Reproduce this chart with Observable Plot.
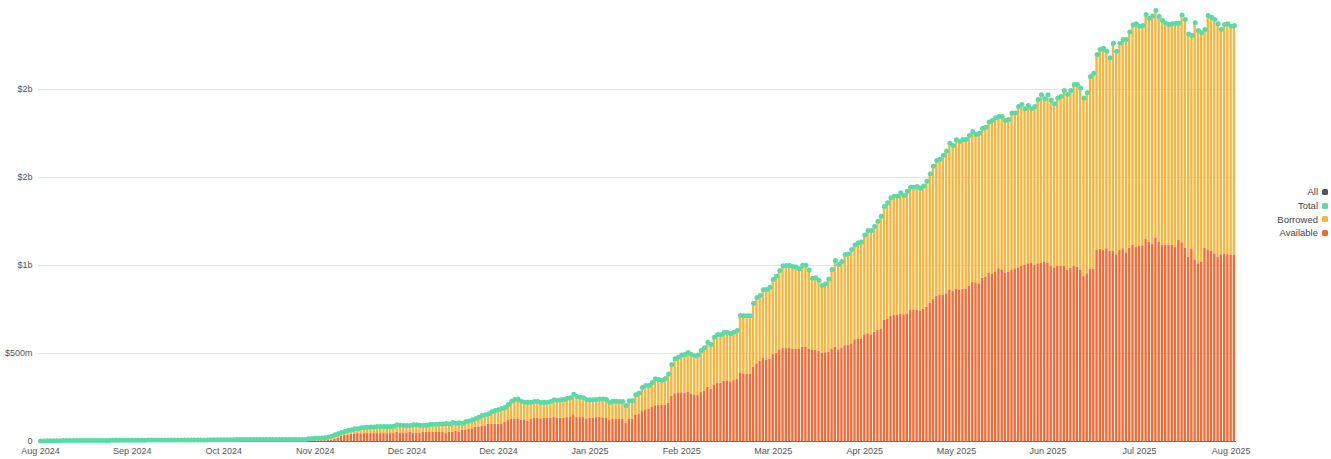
<!DOCTYPE html>
<html><head><meta charset="utf-8">
<script src="https://cdn.jsdelivr.net/npm/d3@7"></script>
<script src="https://cdn.jsdelivr.net/npm/@observablehq/plot@0.6"></script>
<style>
html,body{margin:0;padding:0;background:#fff;}
#wrap{position:relative;width:1331px;height:459px;font-family:"Liberation Sans",Arial,sans-serif;}
#legend{position:absolute;right:3px;top:185px;font-size:9.5px;color:#444;}
.row{display:flex;justify-content:flex-end;align-items:center;height:13.7px;}
.sw{width:6px;height:6px;border-radius:1.5px;margin-left:4px;}
</style></head><body><div id="wrap"><div id="legend"></div></div>
<script>
// Daily values in $ millions, starting 2024-08-12
const totalM = [
3,3,4,4,4,4,4,5,5,5,5,
5,5,5,6,6,6,6,6,6,6,6,7,7,7,7,7,7,7,7,7,
7,7,8,8,8,8,8,8,8,8,8,9,9,9,9,9,9,9,9,9,
9,10,10,10,10,10,10,10,10,11,11,11,11,11,11,11,11,11,11,11,
12,12,12,12,12,12,12,12,12,12,12,
16,17,18,19,20,22,25,
30,38,44,51,57,63,66,72,72,78,
80,81,83,83,85,85,85,85,85,87,
95,93,91,91,91,95,95,93,93,93,
97,98,98,100,100,102,100,108,104,106,
102,114,117,123,129,138,148,152,157,169,
176,180,188,193,210,229,239,242,229,223,
223,223,227,227,222,223,223,227,237,235,
237,239,246,248,269,256,252,248,237,237,
237,239,242,242,239,222,229,229,227,227,
205,231,231,265,275,307,318,318,335,356,
352,
347,358,384,437,470,479,492,494,506,494,
487,491,517,532,564,551,593,608,606,621,
619,612,621,631,716,714,714,714,786,818,
830,862,864,877,920,941,972,998,1000,1000,
994,991,981,1002,1002,975,928,930,915,886,
896,924,977,1028,
1005,
1023,1063,1066,1091,1117,1129,1133,1174,1199,1199,
1222,1252,1280,1335,1356,1385,1394,1394,1413,1398,
1422,1445,1445,1449,1439,1451,1479,1521,1564,1597,
1604,1627,1650,1695,1682,1714,1705,1716,1716,1739,
1761,1744,1752,1780,1786,1815,1824,1839,1847,1847,
1824,1830,1866,1866,1903,1915,1890,1909,1890,1903,
1943,1970,1947,
1970,1941,1919,1951,1960,1994,1972,1994,2028,2028,
2008,1951,1981,2074,2093,2199,2227,2235,2218,2180,
2263,2218,2263,2284,2284,2326,2368,2373,2360,2364,
2426,2405,2417,2449,2415,2392,2377,2369,2373,2377,
2377,2424,2398,2316,2307,2379,2335,2322,2341,2421,
2411,2398,2373,2341,2369,2373,2360,2364
];
const availableM = [
0,0,0,0,0,0,0,0,0,0,0,0,0,0,0,0,0,0,0,0,0,0,0,0,0,0,0,0,0,0,0,
1,1,1,1,1,1,1,1,1,1,1,1,1,1,1,1,1,1,1,1,
1,1,1,1,2,2,2,2,2,2,2,2,2,2,2,2,2,3,3,3,3,3,3,3,3,3,3,3,3,3,
3,4,4,5,5,5,5,6,
6,13,19,30,34,34,42,42,45,44,
45,45,45,45,45,45,45,45,45,45,
51,49,49,49,51,47,47,47,51,51,
51,51,51,51,51,45,51,53,57,55,
63,66,68,72,81,81,85,89,97,98,
98,98,100,108,119,125,125,129,123,123,
116,125,131,133,129,131,133,133,138,133,
133,133,136,140,152,136,136,136,129,131,
131,136,138,134,134,119,125,125,125,125,
102,125,125,148,153,170,180,182,193,203,
204,
205,205,218,258,271,277,277,275,282,271,
261,261,278,284,309,297,322,331,331,343,
341,335,346,352,390,384,384,384,422,441,
455,475,464,468,494,502,517,528,528,528,
523,523,523,536,534,523,517,517,513,502,
504,508,523,536,
521,
532,545,549,555,578,583,583,606,612,606,
621,631,640,688,693,710,716,716,725,720,
725,744,748,744,739,752,763,786,809,824,
833,833,839,862,852,867,862,866,867,883,
903,902,896,928,934,958,949,964,981,975,
958,962,975,981,987,996,1000,1010,1011,1000,
1010,1015,1017,
1015,994,987,996,996,996,975,985,996,991,
975,937,953,977,977,1085,1093,1085,1095,1081,
1081,1057,1085,1095,1072,1099,1114,1102,1108,1112,
1148,1131,1119,1157,1131,1117,1117,1114,1114,1102,
1142,1129,1097,1047,1095,1032,1010,1017,1099,1089,
1081,1063,1047,1061,1063,1061,1057,1057
];
const startDate = "2024-08-12";
const xTickLabels = ["Aug 2024","Sep 2024","Oct 2024","Nov 2024","Dec 2024","Dec 2024","Jan 2025","Feb 2025","Mar 2025","Apr 2025","May 2025","Jun 2025","Jul 2025","Aug 2025"];
const xTickEvery = 28;
const yTicks = [0, 5e8, 1e9, 1.5e9, 2e9];
const yTickLabels = ["0", "$500m", "$1b", "$2b", "$2b"];
const legendNames = ["All", "Total", "Borrowed", "Available"];
const legendColors = ["#555555", "#58DBA6", "#F6B53D", "#F26A36"];

const start = new Date(startDate + "T00:00:00Z");
const data = totalM.map((t, i) => ({
  key: d3.utcFormat("%Y-%m-%d")(d3.utcDay.offset(start, i)),
  total: t * 1e6,
  available: availableM[i] * 1e6
}));
const xTickKeys = xTickLabels.map((_, k) => data[k * xTickEvery].key);

const chart = Plot.plot({
  width: 1331,
  height: 459,
  marginLeft: 38,
  marginRight: 95,
  marginTop: 1,
  marginBottom: 18,
  style: {fontFamily: "'Liberation Sans', Arial, sans-serif", background: "transparent"},
  x: {type: "band", domain: data.map(d => d.key), padding: 0.28, label: null},
  y: {domain: [0, 2.5e9], label: null},
  marks: [
    Plot.ruleY(yTicks.slice(1), {stroke: "#e6e6e6", strokeWidth: 1}),
    Plot.axisY({ticks: yTicks, tickFormat: d => yTickLabels[yTicks.indexOf(d)], tickSize: 0, tickPadding: 6, fontSize: 9, fill: "#555", label: null}),
    Plot.barY(data, {x: "key", y1: 0, y2: "available", fill: legendColors[3]}),
    Plot.barY(data, {x: "key", y1: "available", y2: "total", fill: legendColors[2]}),
    Plot.ruleY([0], {stroke: "#7a6d68", strokeWidth: 1}),
    Plot.dot(data, {x: "key", y: "total", r: 2.5, fill: legendColors[1], stroke: "none"}),
    Plot.axisX({ticks: xTickKeys, tickFormat: d => xTickLabels[xTickKeys.indexOf(d)], tickSize: 0, tickPadding: 6, fontSize: 9, fill: "#555", label: null})
  ]
});
const wrap = document.getElementById("wrap");
wrap.insertBefore(chart, wrap.firstChild);

const legend = document.getElementById("legend");
legendNames.forEach((n, i) => {
  const row = document.createElement("div");
  row.className = "row";
  const t = document.createElement("span");
  t.textContent = n;
  const s = document.createElement("span");
  s.className = "sw";
  s.style.background = legendColors[i];
  row.appendChild(t); row.appendChild(s);
  legend.appendChild(row);
});
</script>
</body></html>
